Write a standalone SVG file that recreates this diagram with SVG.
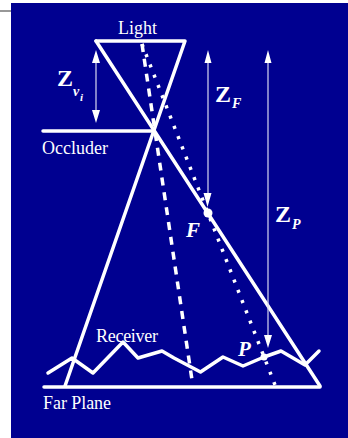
<svg xmlns="http://www.w3.org/2000/svg" width="348" height="438" viewBox="0 0 348 438">
<style>
.s{fill:none;stroke:#fff;stroke-width:3.500;stroke-linecap:round;stroke-linejoin:round}
.d{fill:none;stroke:#fff;stroke-width:3.500}
.a{fill:none;stroke:#d8d8f0;stroke-width:1.200}
.h{fill:#fff}
text{fill:#fff;font-family:"Liberation Serif","Times New Roman",serif}
.l{font-size:18px}
.z{font-size:24px;font-weight:bold}
.i{font-style:italic;font-weight:bold}
</style>
<rect width="348" height="438" fill="#fff"/>
<rect x="11" y="3" width="337" height="435" fill="#000090"/>
<rect x="0" y="10.500" width="11" height="1" fill="#333"/>
<g id="connectors">
<path class="s" d="M96 41H185L65 386"/>
<path class="s" d="M96 41L320 386"/>
<path class="s" d="M43 131H154"/>
<path class="s" d="M44 387H320"/>
<path class="s" d="M48 373L72 358L93 373L123 342L138 358L162 351L174 358L200.500 372L223 357L243 366L264 357L281 351L305 365L319 351"/>
<path class="d" d="M142 44L192 380" stroke-dasharray="8 7"/>
<path class="d" d="M142 44L275 385" stroke-dasharray="3 8" stroke-width="3"/>
<path class="a" d="M96 56V118M208 60V200M268 60V340"/>
<path class="h" d="M96 50L92 63H100ZM96 123L92 110H100ZM208 50L204.500 63H211.500ZM207.500 207L203.500 193H211.500ZM268 50L264.500 63H271.500ZM268 348L264 335H272Z"/>
</g>
<g id="point-f"><circle cx="208" cy="213" r="4.500" class="h"/><text class="i" x="186" y="237" font-size="21">F</text></g>
<g id="point-p"><circle cx="264" cy="357" r="3.500" class="h"/><text class="i" x="238" y="356" font-size="21">P</text></g>
<g id="light"><text class="l" x="118" y="34">Light</text></g>
<g id="occluder"><text class="l" x="42" y="154">Occluder</text></g>
<g id="receiver"><text class="l" x="96" y="342" textLength="62">Receiver</text></g>
<g id="far-plane"><text class="l" x="43" y="409" textLength="68">Far Plane</text></g>
<g id="z-v"><text class="z" x="57" y="86">Z</text><text class="i" x="73" y="96" font-size="14">v</text><text class="i" x="80" y="101" font-size="11">i</text></g>
<g id="z-f"><text class="z" x="215" y="102">Z</text><text class="i" x="232" y="108" font-size="14">F</text></g>
<g id="z-p"><text class="z" x="275" y="222">Z</text><text class="i" x="292" y="229" font-size="14">P</text></g>
</svg>
